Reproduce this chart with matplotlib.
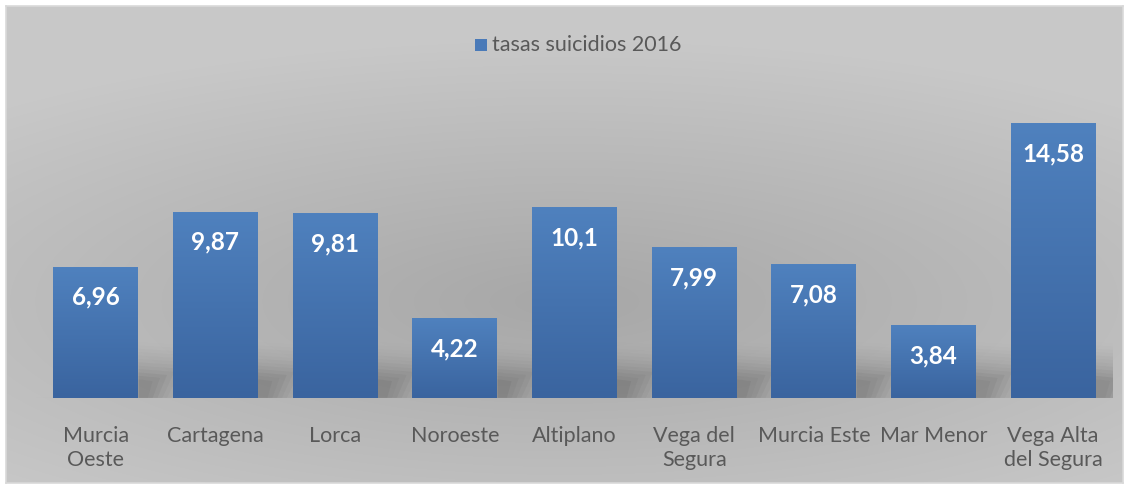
import matplotlib.pyplot as plt
import numpy as np
from matplotlib.patches import Rectangle, Polygon

zonas = ['Murcia\nOeste', 'Cartagena', 'Lorca', 'Noroeste', 'Altiplano',
         'Vega del\nSegura', 'Murcia Este', 'Mar Menor', 'Vega Alta\ndel Segura']
tasas = [6.96, 9.87, 9.81, 4.22, 10.1, 7.99, 7.08, 3.84, 14.58]
etiquetas = ['6,96', '9,87', '9,81', '4,22', '10,1', '7,99', '7,08', '3,84', '14,58']
serie = 'tasas suicidios 2016'

plt.rcParams['font.family'] = ['Lato', 'DejaVu Sans']

W, H = 1131, 487
fig = plt.figure(figsize=(W / 100, H / 100), dpi=100)
fig.patch.set_facecolor('white')

# chart area background: radial grey gradient
bg = fig.add_axes([6 / W, 4 / H, (W - 14) / W, (H - 10) / H])
yy, xx = np.mgrid[0:1:300j, 0:1:600j]
r = np.sqrt(((xx - 0.5) / 0.75) ** 2 + ((yy - 0.38) / 0.55) ** 2)
r = np.clip(r, 0, 1)
g = 0.655 + 0.13 * r
bg.imshow(np.dstack([g, g, g]), aspect='auto', extent=[0, 1, 0, 1],
          origin='lower', interpolation='bilinear')
bg.set_xlim(0, 1)
bg.set_ylim(0, 1)
for s in bg.spines.values():
    s.set_color('#d9d9d9')
    s.set_linewidth(1.2)
bg.set_xticks([])
bg.set_yticks([])

# plot area
x0, x1 = 36, 1113
y_base, y_top = 398, 97
ax = fig.add_axes([x0 / W, (H - y_base) / H, (x1 - x0) / W, (y_base - y_top) / H])
ax.set_facecolor('none')
ax.set_xlim(-0.5, len(tasas) - 0.5)
ax.set_ylim(0, 16)
for s in ax.spines.values():
    s.set_visible(False)
ax.set_yticks([])
ax.set_xticks(range(len(tasas)))
ax.set_xticklabels(zonas, fontsize=15.5, color='#595959', linespacing=1.25)
ax.tick_params(axis='x', length=0, pad=20)

bw = 0.71
# soft floor shadow to the right of each bar
for i, v in enumerate(tasas):
    xr = i + bw / 2
    for k in range(12):
        a = 0.055 * (1 - k / 12)
        dx = 0.05 + 0.025 * k
        dy = 1.0 + 0.18 * k
        ax.add_patch(Polygon([(xr, 0), (xr + dx * 1.6, 0.0),
                              (xr + dx * 2.4, min(dy, v) * 0.9), (xr, min(dy, v))],
                             closed=True, facecolor='#303030', edgecolor='none',
                             alpha=a, zorder=1))

# bars with vertical gradient
grad = np.linspace(0, 1, 100).reshape(-1, 1)
top_c = np.array([0x4f, 0x81, 0xbe]) / 255
bot_c = np.array([0x3a, 0x64, 0x9f]) / 255
for i, v in enumerate(tasas):
    img = bot_c + (top_c - bot_c) * grad
    img = img.reshape(100, 1, 3)
    ax.imshow(img, extent=[i - bw / 2, i + bw / 2, 0, v], origin='lower',
              aspect='auto', zorder=2, interpolation='bilinear')
    ax.text(i, v - 1.6, etiquetas[i], ha='center', va='center', color='white',
            fontsize=17.5, fontweight='bold', zorder=3)
ax.set_xlim(-0.5, len(tasas) - 0.5)
ax.set_ylim(0, 16)
ax.axhline(0, color='#bcbcbc', lw=0.8, zorder=1.5)

# legend
fig.patches.append(Rectangle((475 / W, (H - 51) / H), 12 / W, 12 / H,
                             transform=fig.transFigure, facecolor='#4a7ab8',
                             edgecolor='none'))
fig.text(492 / W, (H - 45) / H, serie, fontsize=15.5, color='#595959',
         va='center', ha='left')

fig.savefig('out.png', dpi=100)
